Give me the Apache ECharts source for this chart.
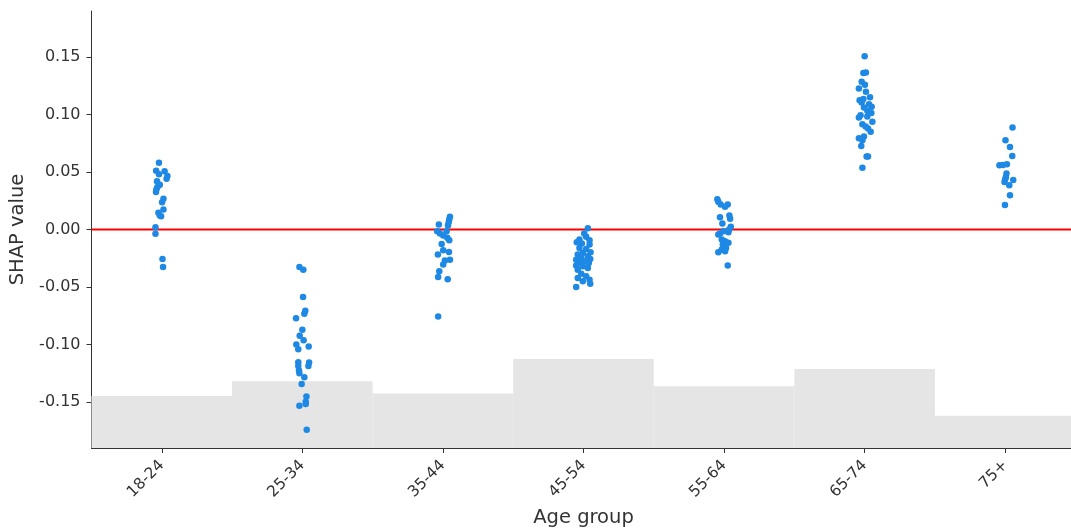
<!DOCTYPE html>
<html>
<head>
<meta charset="utf-8">
<script src="https://cdn.jsdelivr.net/npm/echarts@6/dist/echarts.min.js"></script>
<style>html,body{margin:0;padding:0;background:#fff}#c{width:1071px;height:529px}</style>
</head>
<body>
<div id="c"></div>
<script>
const categories = ['18-24','25-34','35-44','45-54','55-64','65-74','75+'];
const yTicks = [-0.15,-0.10,-0.05,0.00,0.05,0.10,0.15];
const histCounts = [21,27,22,36,25,32,13];

// SHAP values per group, with horizontal jitter (offset in category units)
const g0 = [[0.058,-0.02],[0.051,-0.04],[0.0506,0.02],[0.048,-0.02],[0.0465,0.04],[0.0442,0.034],[0.042,-0.034],[0.039,-0.014],[0.037,-0.031],[0.035,-0.038],[0.0326,-0.041],[0.0268,0.012],[0.0238,0.002],[0.0174,0.012],[0.0145,-0.024],[0.0122,-0.014],[0.0116,-0.005],[0.002,-0.045],[-0.0038,-0.045],[-0.0256,0.005],[-0.0326,0.009]];
const g1 = [[-0.0326,-0.021],[-0.0349,0.007],[-0.0587,0.005],[-0.0706,0.021],[-0.0733,0.014],[-0.0771,-0.045],[-0.0872,0.0],[-0.0924,-0.019],[-0.0962,0.009],[-0.1000,-0.043],[-0.1041,-0.029],[-0.1017,0.045],[-0.1154,-0.029],[-0.1157,0.048],[-0.1186,-0.029],[-0.1186,0.043],[-0.1227,-0.024],[-0.125,-0.021],[-0.1285,0.014],[-0.1343,-0.005],[-0.1453,0.029],[-0.1497,0.024],[-0.1517,0.024],[-0.1532,-0.021],[-0.1741,0.031]];
const g2 = [[0.0110,0.05],[0.0087,0.045],[0.0064,0.041],[0.0044,-0.029],[0.0035,0.036],[-0.0015,-0.041],[-0.0015,0.026],[-0.0035,-0.021],[-0.0052,0.002],[-0.0072,0.031],[-0.0093,0.045],[-0.0125,-0.009],[-0.0180,0.002],[-0.0195,0.043],[-0.0218,-0.036],[-0.0262,0.05],[-0.0270,0.014],[-0.0305,0.002],[-0.0364,-0.026],[-0.0413,-0.034],[-0.0433,0.034],[-0.0756,-0.034]];
const g3 = [[0.001,0.031],[-0.0035,0.005],[-0.0064,0.019],[-0.0087,-0.029],[-0.0093,0.043],[-0.011,-0.048],[-0.0122,-0.012],[-0.013,0.043],[-0.016,-0.029],[-0.0169,0.019],[-0.0198,0.05],[-0.0204,-0.005],[-0.0218,-0.041],[-0.0233,0.031],[-0.0247,-0.016],[-0.0256,0.048],[-0.0262,-0.052],[-0.0276,0.007],[-0.0291,-0.029],[-0.0291,0.038],[-0.0314,-0.052],[-0.032,-0.005],[-0.0334,0.031],[-0.0349,-0.041],[-0.0384,-0.016],[-0.0407,0.019],[-0.0421,-0.041],[-0.0436,0.043],[-0.045,-0.005],[-0.0471,0.048],[-0.050,-0.052]];
const g4 = [[0.0262,-0.048],[0.0241,-0.041],[0.0218,-0.024],[0.0218,0.026],[0.0198,0.007],[0.0122,0.038],[0.0107,-0.029],[0.0093,0.043],[0.0052,-0.012],[0.0023,0.048],[0.000,0.036],[-0.0015,-0.005],[-0.0023,0.031],[-0.0035,-0.029],[-0.0044,-0.041],[-0.0087,-0.016],[-0.0102,0.007],[-0.0116,0.031],[-0.013,-0.009],[-0.016,0.014],[-0.0174,-0.016],[-0.0189,0.007],[-0.0198,-0.041],[-0.0314,0.026]];
const g5 = [[0.1506,0.0],[0.136,-0.009],[0.1366,0.009],[0.1285,-0.021],[0.1259,0.002],[0.1227,-0.041],[0.1198,0.009],[0.1149,0.038],[0.1125,-0.036],[0.1134,-0.009],[0.1105,-0.021],[0.109,0.031],[0.1067,0.05],[0.1061,-0.005],[0.1032,0.019],[0.1012,0.048],[0.0994,-0.029],[0.0974,-0.041],[0.0983,0.019],[0.0936,0.055],[0.0916,-0.016],[0.0896,0.007],[0.0878,0.024],[0.0849,0.043],[0.0794,-0.041],[0.0808,-0.005],[0.0776,-0.016],[0.0727,-0.024],[0.0634,0.014],[0.0634,0.024],[0.0538,-0.016]];
const g6 = [[0.0887,0.052],[0.0776,0.002],[0.0718,0.034],[0.0639,0.05],[0.0558,-0.041],[0.0561,-0.016],[0.0567,0.012],[0.0486,0.009],[0.0456,0.005],[0.0436,0.0],[0.043,0.057],[0.0413,-0.005],[0.0384,0.029],[0.0297,0.034],[0.0212,-0.002]];
const groups = [g0,g1,g2,g3,g4,g5,g6];

const scatterData = [];
groups.forEach((g, i) => g.forEach(p => scatterData.push([i + p[1], p[0]])));

const textColor = '#333';
const font = 'DejaVu Sans';
const chart = echarts.init(document.getElementById('c'), null, {renderer: 'canvas'});
chart.setOption({
  animation: false,
  backgroundColor: '#fff',
  textStyle: {fontFamily: font},
  grid: {left: 91.5, right: -4.5, top: 11, bottom: 81, containLabel: false, outerBoundsMode: 'none'},
  xAxis: [
    {
      type: 'category', data: categories, boundaryGap: true,
      name: 'Age group', nameLocation: 'middle', nameGap: 60,
      nameTextStyle: {fontSize: 19.5, color: textColor, fontFamily: font},
      axisLine: {show: true, onZero: false, lineStyle: {color: textColor, width: 1}},
      axisTick: {show: true, alignWithLabel: true, length: 5, lineStyle: {color: textColor}},
      axisLabel: {rotate: 45, fontSize: 15.5, color: textColor, margin: 15, fontFamily: font},
      splitLine: {show: false}
    },
    {
      type: 'value', min: -0.5, max: 6.5, show: false
    }
  ],
  yAxis: [
    {
      type: 'value', min: -0.19, max: 0.19,
      name: 'SHAP value', nameLocation: 'middle', nameGap: 57,
      nameTextStyle: {fontSize: 19.5, color: textColor, fontFamily: font},
      axisLine: {show: true, onZero: false, lineStyle: {color: textColor, width: 1}},
      axisTick: {show: true, length: 5, lineStyle: {color: textColor}, customValues: yTicks},
      axisLabel: {fontSize: 16, color: textColor, margin: 11, fontFamily: font,
        customValues: yTicks, formatter: v => v.toFixed(2)},
      splitLine: {show: false}
    },
    {
      type: 'value', min: 0, max: 176.8, show: false
    }
  ],
  series: [
    {
      type: 'bar', xAxisIndex: 0, yAxisIndex: 1, data: histCounts,
      barWidth: '100%', barGap: '0%', barCategoryGap: '0%',
      itemStyle: {color: '#e5e5e5'}, silent: true, z: 1
    },
    {
      type: 'line', xAxisIndex: 1, yAxisIndex: 0, data: [[-0.5, 0], [6.5, 0]],
      symbol: 'none', lineStyle: {color: '#ff0000', width: 2}, silent: true, z: 2
    },
    {
      type: 'scatter', xAxisIndex: 1, yAxisIndex: 0, data: scatterData,
      symbolSize: 6.5, itemStyle: {color: '#1E88E5', opacity: 1}, z: 3
    }
  ]
});
</script>
</body>
</html>
